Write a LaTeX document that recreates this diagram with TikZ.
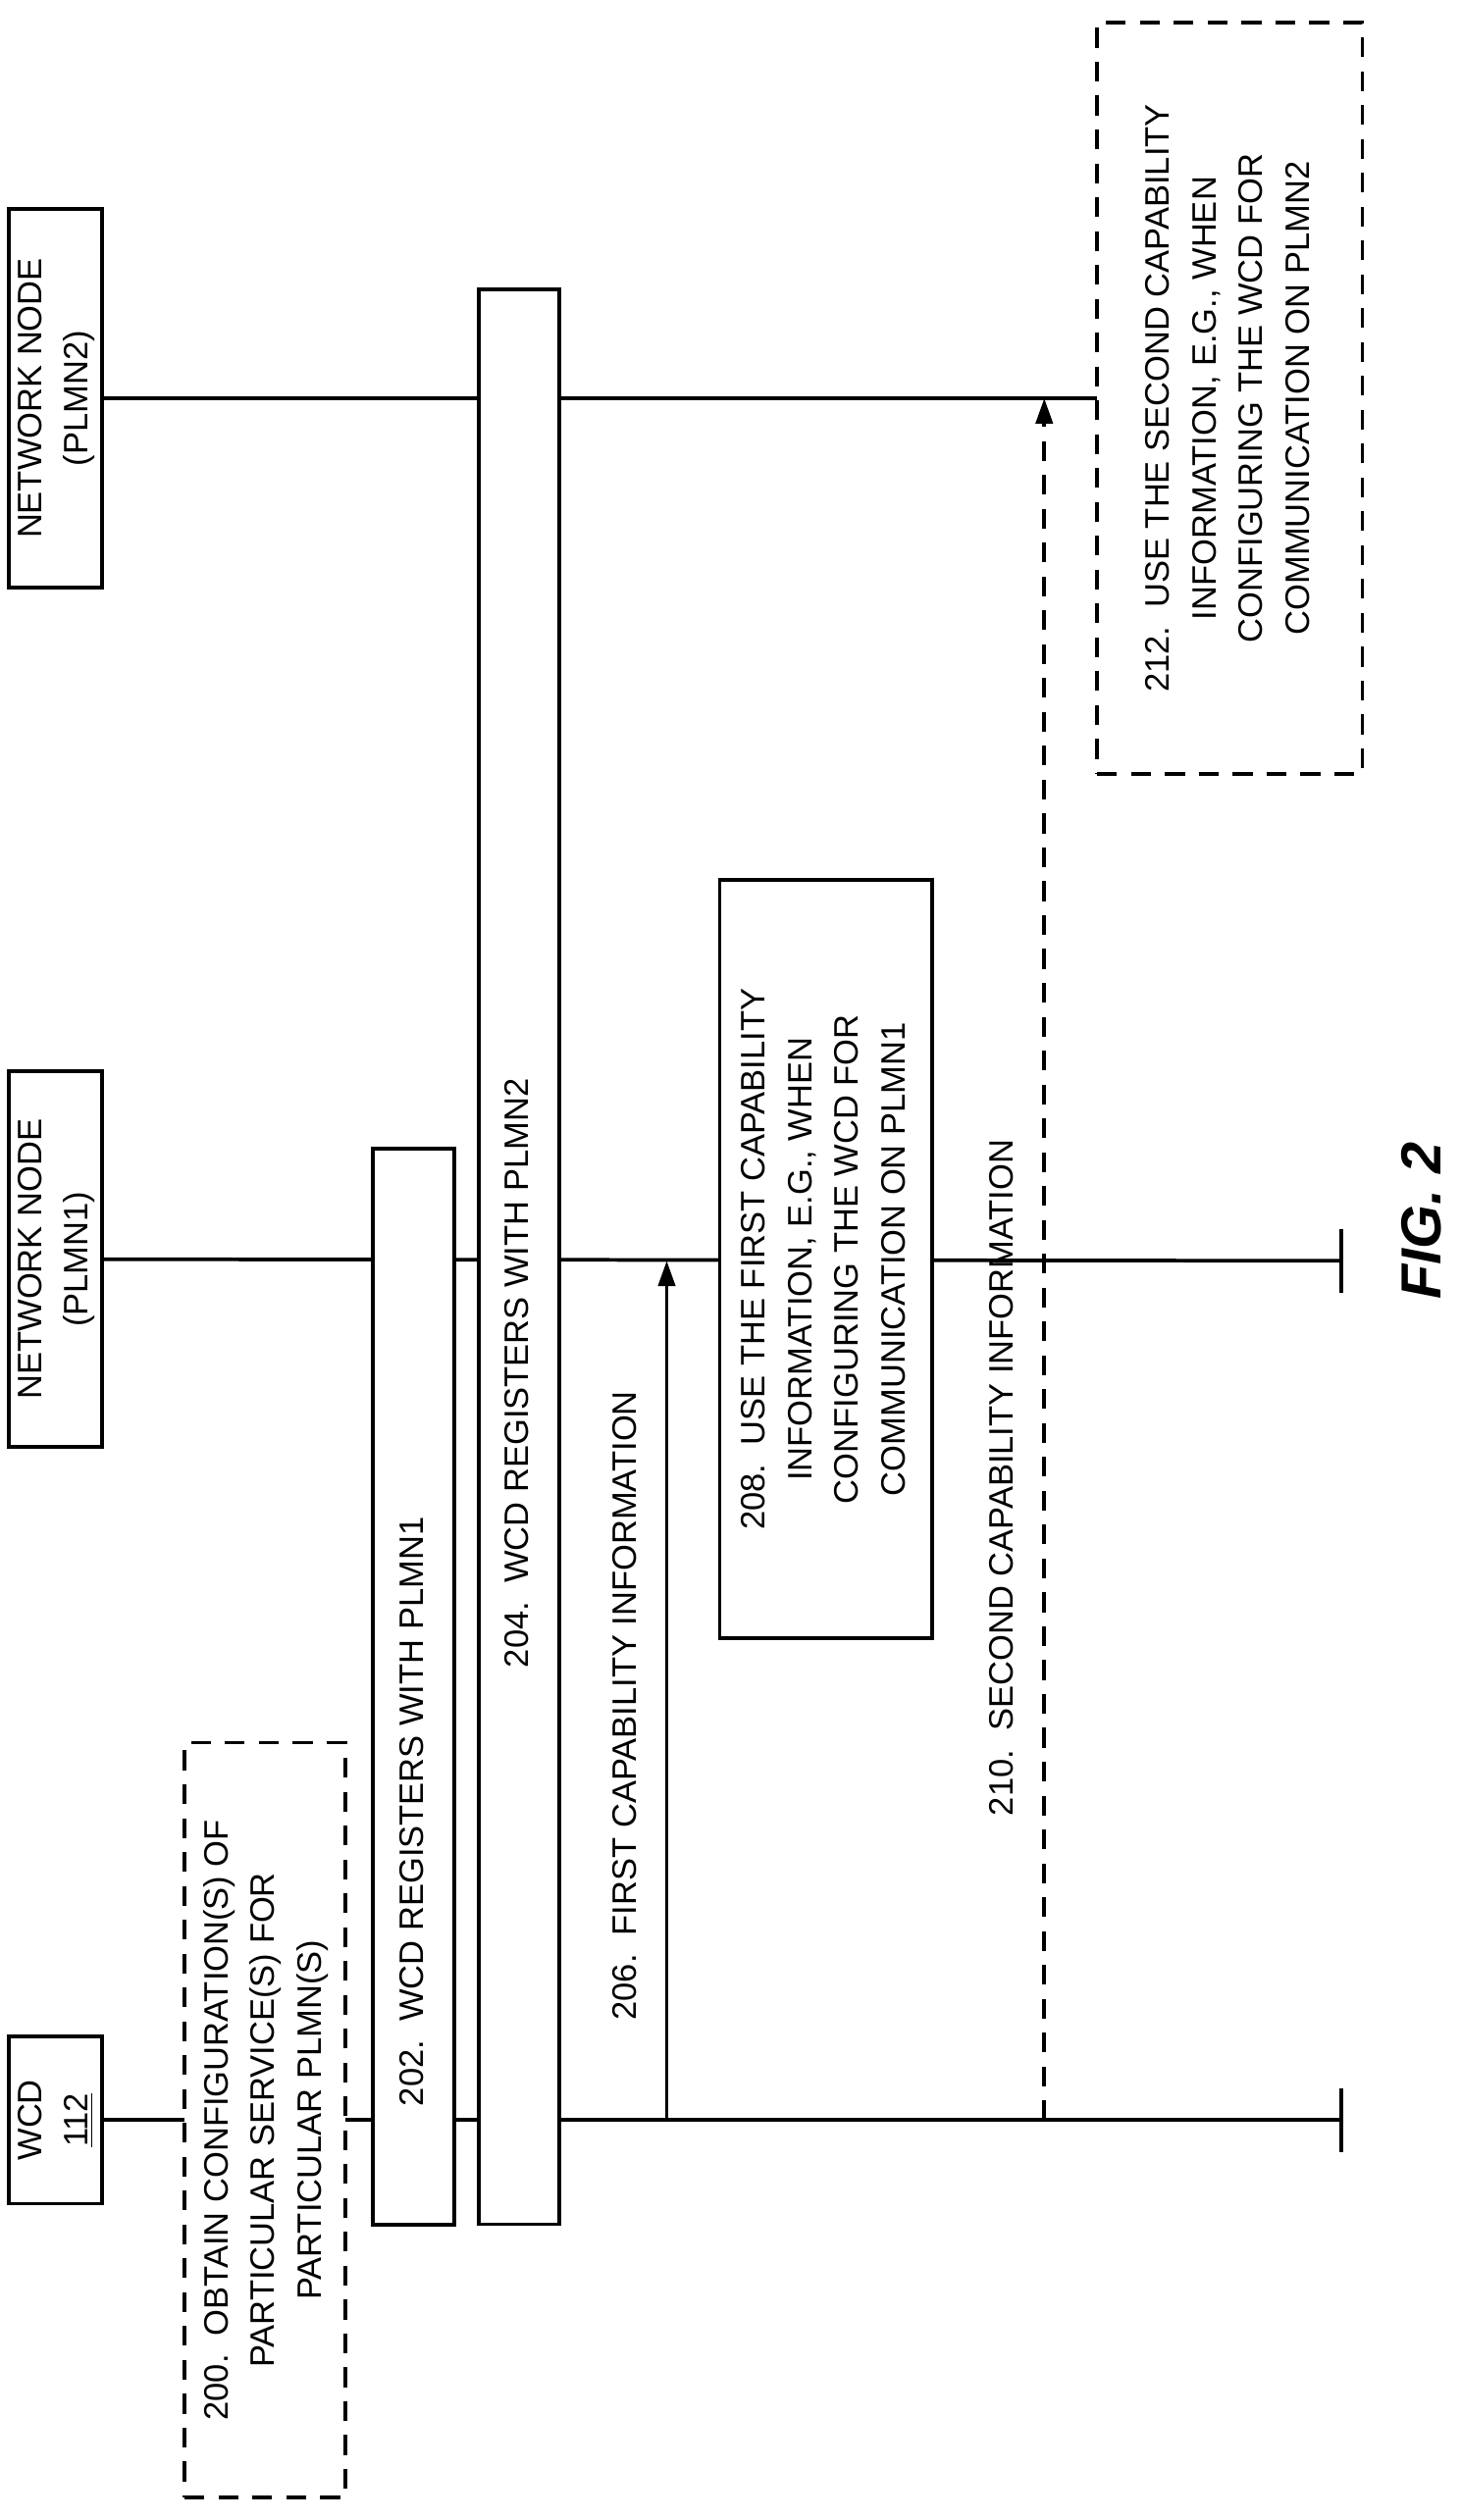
\documentclass[tikz,border=0pt]{standalone}
\usepackage{fontspec}
\setmainfont{Liberation Sans}
\usetikzlibrary{arrows.meta}

\tikzset{
  box/.style={draw,line width=1.3pt,fill=white,inner sep=0pt},
  dbox/.style={box,dash pattern=on 7pt off 5pt},
  life/.style={line width=1.3pt},
  msg/.style={line width=1.3pt,-{Triangle[length=9pt,width=6pt]}},
  lbl/.style={font=\fontsize{12}{16.5}\selectfont,align=center,inner sep=0pt}
}
\newcommand{\rot}[1]{\rotatebox{90}{\begin{tabular}{@{}c@{}}#1\end{tabular}}}

\begin{document}
\begin{tikzpicture}[x=0.02cm,y=-0.02cm]
    \useasboundingbox (0,0) rectangle (909,1569);
    % lifeline ends
    \coordinate (wcdend) at (835,1320);
    \coordinate (nn1end) at (835,785);
    \coordinate (nn2end) at (835,248);
    % actors
    \node[box,lbl,minimum width=0.82cm,minimum height=2.08cm] (wcd) at (34.5,1320) {\rot{WCD\\\underline{112}}};
    \node[box,lbl,minimum width=0.82cm,minimum height=4.68cm] (nn1) at (34.5,784) {\rot{NETWORK NODE\\(PLMN1)}};
    \node[box,lbl,minimum width=0.82cm,minimum height=4.72cm] (nn2) at (34.5,248) {\rot{NETWORK NODE\\(PLMN2)}};
    % lifelines
    \draw[life] (wcd.east) -- (wcdend);
    \draw[life] (nn1.east) -- (nn1end);
    \draw[life] (nn2.east) -- (nn2end);
    \draw[life] ([yshift=-0.4cm]wcdend) -- ([yshift=0.4cm]wcdend);
    \draw[life] ([yshift=-0.4cm]nn1end) -- ([yshift=0.4cm]nn1end);
    \draw[life] ([yshift=-0.35cm]nn2end) -- ([yshift=0.35cm]nn2end);
    % steps
    \node[dbox,lbl,minimum width=2.0cm,minimum height=9.4cm] (s200) at (165,1320)
        {\rot{200.\ \ OBTAIN CONFIGURATION(S) OF\\PARTICULAR SERVICE(S) FOR\\PARTICULAR PLMN(S)}};
    \node[box,minimum width=1.02cm,minimum height=13.4cm] (s202) at (257.5,1050) {};
    \node[lbl] (t202) at (257.5,1128) {\rot{202.\ \ WCD REGISTERS WITH PLMN1}};
    \node[box,minimum width=1.0cm,minimum height=24.1cm] (s204) at (323,782.5) {};
    \node[lbl] (t204) at (323,855) {\rot{204.\ \ WCD REGISTERS WITH PLMN2}};
    % first capability
    \coordinate (a206s) at (415,1320);
    \coordinate (a206e) at (415,785);
    \draw[msg] (a206s) -- (a206e);
    \node[lbl] (t206) at (390,1062) {\rot{206.\ \ FIRST CAPABILITY INFORMATION}};
    \node[box,lbl,minimum width=2.64cm,minimum height=9.44cm] (s208) at (514,784)
        {\rot{208.\ \ USE THE FIRST CAPABILITY\\INFORMATION, E.G., WHEN\\CONFIGURING THE WCD FOR\\COMMUNICATION ON PLMN1}};
    % second capability
    \coordinate (a210s) at (650,1320);
    \coordinate (a210e) at (650,248);
    \draw[msg,dash pattern=on 7pt off 5pt] (a210s) -- (a210e);
    \node[lbl] (t210) at (625,920) {\rot{210.\ \ SECOND CAPABILITY INFORMATION}};
    \node[dbox,lbl,minimum width=3.3cm,minimum height=9.36cm] (s212) at (765.5,248)
        {\rot{212.\ \ USE THE SECOND CAPABILITY\\INFORMATION, E.G., WHEN\\CONFIGURING THE WCD FOR\\COMMUNICATION ON PLMN2}};
    \node[font=\fontsize{20}{24}\selectfont\bfseries\itshape] (fig) at (885,760) {\rotatebox{90}{FIG. 2}};
\end{tikzpicture}
\end{document}
